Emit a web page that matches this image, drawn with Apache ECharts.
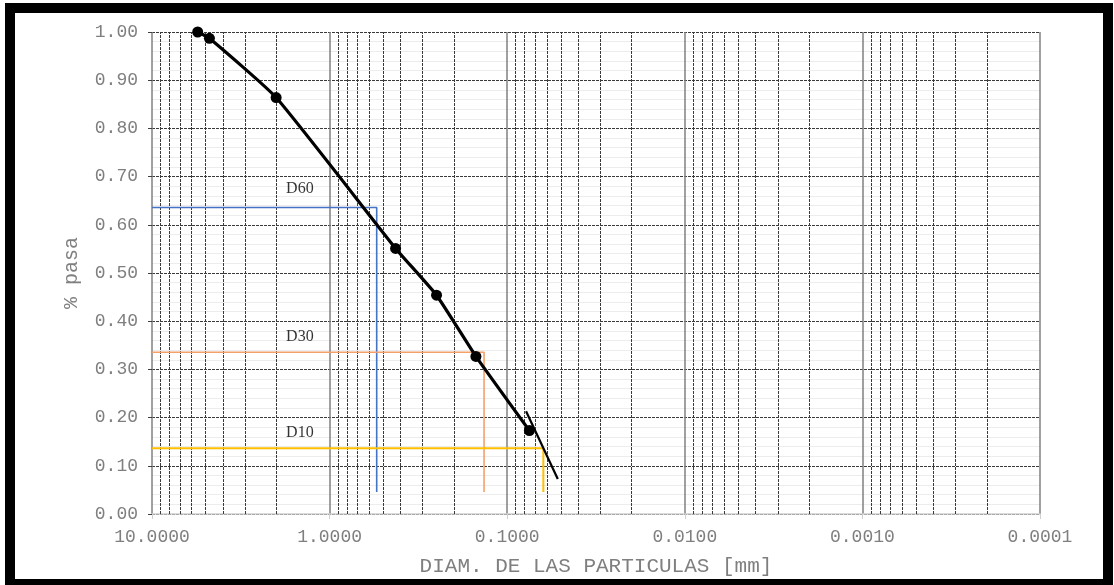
<!DOCTYPE html>
<html>
<head>
<meta charset="utf-8">
<script src="https://cdn.jsdelivr.net/npm/echarts@6/dist/echarts.min.js"></script>
<style>
html,body{margin:0;padding:0;background:#fff;}
#chart{width:1114px;height:585px;}
</style>
</head>
<body>
<div id="chart"></div>
<script>
// ---- data ----
const diameters = [5.53, 4.75, 2.00, 0.425, 0.25, 0.150, 0.075];
const passing = [1.00, 0.987, 0.864, 0.551, 0.454, 0.327, 0.173];
const trendX = [0.0783, 0.0519];
const trendY = [0.213, 0.0727];
const dNames = ['D60', 'D30', 'D10'];
const dDiam = [0.543, 0.135, 0.0626];
const dPass = [0.636, 0.3355, 0.1362];
const dColors = ['#4472C4', '#F4A06B', '#FFC000'];
const dLabelX = 1.47;
const dLabelY = [0.675, 0.368, 0.169];
const xStart = 10;
const dBottom = 0.0457;
const decades = [0.0001, 0.001, 0.01, 0.1, 1];
const multipliers = [2, 3, 4, 5, 6, 7, 8, 9];
const xMin = 0.0001, xMax = 10;
const yMin = 0, yMax = 1, yStep = 0.1;

const minorX = [];
decades.forEach(d => multipliers.forEach(m => minorX.push([d * m])));

const chart = echarts.init(document.getElementById('chart'));
const gray = '#7f7f7f';
const mono = '"Liberation Mono", "DejaVu Sans Mono", monospace';

const series = [];
// minor vertical grid lines
series.push({
  type: 'custom', silent: true, z: 1, animation: false,
  data: minorX,
  encode: { x: 0 },
  renderItem: (params, api) => {
    const v = api.value(0);
    const p1 = api.coord([v, yMin]);
    const p2 = api.coord([v, yMax]);
    return {
      type: 'line',
      shape: { x1: Math.round(p1[0]) + 0.5, y1: p1[1], x2: Math.round(p2[0]) + 0.5, y2: p2[1] },
      style: { stroke: '#3a3a3a', lineWidth: 1, lineDash: [3, 1] }
    };
  }
});
// D lines
dNames.forEach((n, i) => {
  series.push({
    type: 'line', z: 3, symbol: 'none', animation: false,
    lineStyle: { color: dColors[i], width: i === 2 ? 2 : 1.6 },
    data: [[xStart, dPass[i]], [dDiam[i], dPass[i]], [dDiam[i], dBottom]]
  });
});
// D labels
series.push({
  type: 'scatter', z: 4, symbolSize: 0, animation: false,
  data: dNames.map((n, i) => ({ name: n, value: [dLabelX, dLabelY[i]] })),
  label: {
    show: true, position: 'inside', formatter: p => p.name,
    fontFamily: '"Liberation Serif", "Times New Roman", serif',
    fontSize: 16, color: '#000'
  }
});
// trend extension
series.push({
  type: 'line', z: 5, symbol: 'none', animation: false,
  lineStyle: { color: '#000', width: 2.2 },
  data: trendX.map((x, i) => [x, trendY[i]])
});
// main curve
series.push({
  type: 'line', z: 6, animation: false, smooth: 0.15,
  symbol: 'circle', symbolSize: 11,
  itemStyle: { color: '#000' },
  lineStyle: { color: '#000', width: 3.2 },
  data: diameters.map((x, i) => [x, passing[i]])
});

chart.setOption({
  backgroundColor: '#fff',
  animation: false,
  grid: { left: 152, right: 74, top: 32, bottom: 71, outerBoundsMode: 'none' },
  xAxis: {
    type: 'log', logBase: 10, min: xMin, max: xMax, inverse: true,
    name: 'DIAM. DE LAS PARTICULAS [mm]', nameLocation: 'middle', nameGap: 42,
    nameTextStyle: { fontFamily: mono, fontSize: 21, color: gray },
    axisLine: { show: true, lineStyle: { color: '#d0d0d0', width: 1.5 } },
    axisTick: { show: true, length: 5, lineStyle: { color: '#d0d0d0' } },
    axisLabel: { fontFamily: mono, fontSize: 18, color: gray, margin: 14,
      formatter: v => Number(v).toFixed(4) },
    splitLine: { show: true, lineStyle: { color: '#808080', width: 1.5 } },
    minorTick: { show: false }, minorSplitLine: { show: false }
  },
  yAxis: {
    type: 'value', min: yMin, max: yMax, interval: yStep,
    name: '% pasa', nameLocation: 'middle', nameGap: 70, nameRotate: 90,
    nameTextStyle: { fontFamily: mono, fontSize: 20, color: gray },
    axisLine: { show: false },
    axisTick: { show: true, length: 4, lineStyle: { color: '#404040' } },
    axisLabel: { fontFamily: mono, fontSize: 18, color: gray, margin: 14,
      formatter: v => Number(v).toFixed(2) },
    splitLine: { show: true, lineStyle: { color: '#3a3a3a', width: 1, type: [3, 1] } },
    minorTick: { show: false, splitNumber: 5 },
    minorSplitLine: { show: true, lineStyle: { color: '#ececec', width: 1 } }
  },
  graphic: [{
    type: 'rect', silent: true, z: 100,
    shape: { x: 10, y: 8, width: 1098, height: 576 },
    style: { fill: 'none', stroke: '#000', lineWidth: 10 }
  }],
  series: series
});
</script>
</body>
</html>
